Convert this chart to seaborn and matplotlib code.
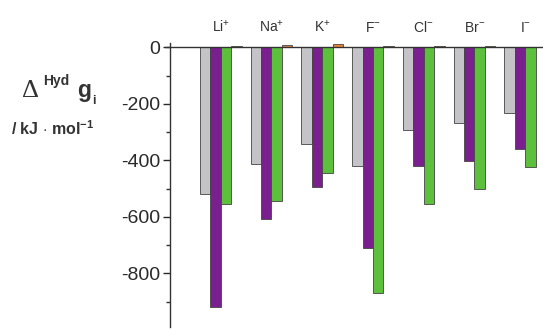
# Hydration Gibbs energies of alkali and halide ions, bar chart

import numpy as np
import pandas as pd
import matplotlib
matplotlib.use('Agg')
import matplotlib.pyplot as plt
from matplotlib.ticker import MultipleLocator
import seaborn as sns

ions = ['Li$^{+}$', 'Na$^{+}$', 'K$^{+}$', 'F$^{-}$', 'Cl$^{-}$', 'Br$^{-}$', 'I$^{-}$']
series = ['exp', 'model 1', 'model 2', 'correction']

# values, kJ/mol
exp_vals = [-518, -414, -343, -421, -294, -269, -234]
model1_vals = [-920, -609, -496, -712, -421, -404, -361]
model2_vals = [-556, -545, -446, -868, -556, -503, -425]
corr_vals = [4, 10, 12, 6, 5, 3, 2]

colors = ['#c4c4c8', '#7a1f8e', '#5cc03c', '#e8863a']

df = pd.DataFrame({
    'ion': ions * 4,
    'series': np.repeat(series, len(ions)),
    'g': exp_vals + model1_vals + model2_vals + corr_vals,
})

sns.set_style('white')
plt.rcParams['font.family'] = ['Liberation Sans', 'DejaVu Sans']
plt.rcParams['axes.unicode_minus'] = False
plt.rcParams['mathtext.fontset'] = 'custom'
plt.rcParams['mathtext.rm'] = 'Liberation Sans'
plt.rcParams['mathtext.it'] = 'Liberation Sans'
plt.rcParams['mathtext.bf'] = 'Liberation Sans:bold'

fig = plt.figure(figsize=(5.43, 3.29), dpi=100)
ax = fig.add_axes([0.313, 0.006, 0.687, 0.863])

sns.barplot(data=df, x='ion', y='g', hue='series', palette=colors,
            width=0.82, saturation=1, edgecolor='#444444', linewidth=0.6,
            legend=False, ax=ax)

ax.set_xlim(-1.0, 6.35)
ax.set_ylim(-990, 15)
ax.axhline(0, xmin=-0.012, color='#333333', lw=1.0, zorder=5, clip_on=False)

for s in ['top', 'right', 'bottom']:
    ax.spines[s].set_visible(False)
ax.spines['left'].set_color('#333333')
ax.spines['left'].set_linewidth(1.0)

ax.xaxis.tick_top()
ax.tick_params(axis='x', length=0, labelsize=10, pad=6, colors='#333333')
ax.set_xlabel('')
ax.set_ylabel('')

ax.yaxis.set_major_locator(MultipleLocator(200))
ax.yaxis.set_minor_locator(MultipleLocator(100))
ax.tick_params(axis='y', which='major', left=True, direction='out', length=5,
               width=1, labelsize=14, colors='#2a2a2a', pad=2)
ax.tick_params(axis='y', which='minor', left=True, direction='out', length=3, width=1,
               colors='#333333')

# axis title built from pieces: serif delta, sans super/subscripts
tc = '#333333'
fig.text(0.040, 0.705, '\u0394', fontsize=19, family='Liberation Serif', color=tc,
         va='baseline')
fig.text(0.080, 0.742, 'Hyd', fontsize=10, weight='bold', color=tc, va='baseline')
fig.text(0.142, 0.705, 'g', fontsize=16.5, weight='bold', color=tc, va='baseline')
fig.text(0.170, 0.683, 'i', fontsize=9, weight='bold', color=tc, va='baseline')
fig.text(0.020, 0.590, r'/ kJ $\cdot$ mol$^{\mathbf{-1}}$', fontsize=11.5, weight='bold',
         color=tc, va='baseline')

fig.savefig('out.png', dpi=100)
